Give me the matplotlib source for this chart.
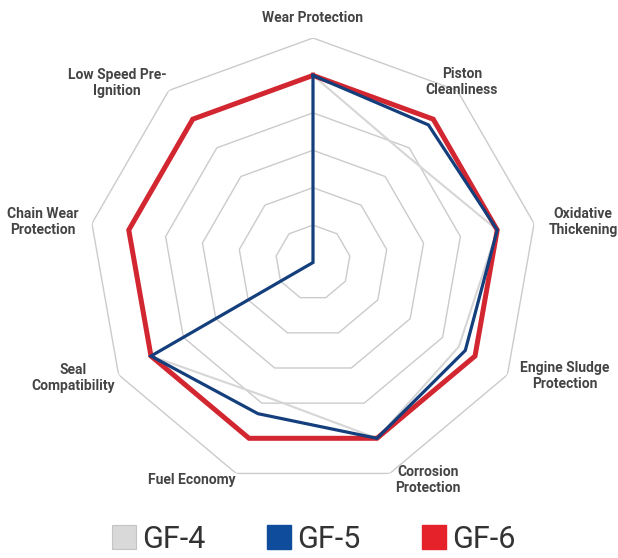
import numpy as np
import matplotlib
matplotlib.use("Agg")
import matplotlib.pyplot as plt
from matplotlib.patches import Patch

categories = ["Wear Protection", "Piston\nCleanliness", "Oxidative\nThickening",
              "Engine Sludge\nProtection", "Corrosion\nProtection", "Fuel Economy",
              "Seal\nCompatibility", "Chain Wear\nProtection", "Low Speed Pre-\nIgnition"]
series_names = ["GF-4", "GF-5", "GF-6"]
gf4 = [5, 3.8, 5, 4.5, 5, 3.8, 5, 0, 0]
gf5 = [5, 4.8, 5, 4.7, 5, 4.3, 5, 0, 0]
gf6 = [5, 5, 5, 5, 5, 5, 5, 5, 5]
grid_levels = [1, 2, 3, 4, 5, 6]

W, H = 618, 558
fig = plt.figure(figsize=(W / 100, H / 100), dpi=100)
cx, cy, R = 313, 262.5, 224.5
ax = fig.add_axes([(cx - R) / W, (H - cy - R) / H, 2 * R / W, 2 * R / H], projection="polar")
ax.set_theta_zero_location("N")
ax.set_theta_direction(-1)
ax.set_ylim(0, 6)
ax.grid(False)
ax.set_xticks([])
ax.set_yticks([])
ax.spines["polar"].set_visible(False)
ax.patch.set_alpha(0)

n = len(categories)
theta = np.linspace(0, 2 * np.pi, n, endpoint=False)
theta_c = np.append(theta, theta[0])

for lv in grid_levels:
    ax.plot(theta_c, [lv] * (n + 1), color="#cbcbcb", lw=1.0, zorder=1)

def closed(v):
    return list(v) + [v[0]]

ax.plot(theta_c, closed(gf4), color="#d6d6d6", lw=1.5, zorder=2)
ax.plot(theta_c, closed(gf6), color="#d22630", lw=3.6, zorder=3, solid_joinstyle="miter")
ax.plot(theta_c, closed(gf5), color="#143f7c", lw=2.3, zorder=4, solid_joinstyle="miter")

label_pos = [(313, 18), (462, 82), (583, 222), (565, 376), (428, 480),
             (192, 480), (73, 378), (43, 222), (117, 83)]
for lab, (px, py) in zip(categories, label_pos):
    fig.text(px / W, (H - py) / H, lab, ha="center", va="center", fontsize=10,
             family="Roboto", fontweight="semibold", color="#444444", linespacing=1.15)

handles = [Patch(facecolor="#d9d9d9", edgecolor="#c4c4c4", lw=0.8),
           Patch(facecolor="#0f4c9c", edgecolor="#0f4c9c"),
           Patch(facecolor="#e52229", edgecolor="#e52229")]
fig.legend(handles, series_names, loc="center", bbox_to_anchor=(314 / W, (H - 539) / H),
           ncol=3, frameon=False, prop={"family": "Roboto", "size": 22},
           handlelength=0.8, handleheight=0.8, handletextpad=0.2, columnspacing=2.0,
           labelcolor="#333333", borderpad=0, borderaxespad=0)

fig.savefig("out.png", dpi=100, facecolor="white")
